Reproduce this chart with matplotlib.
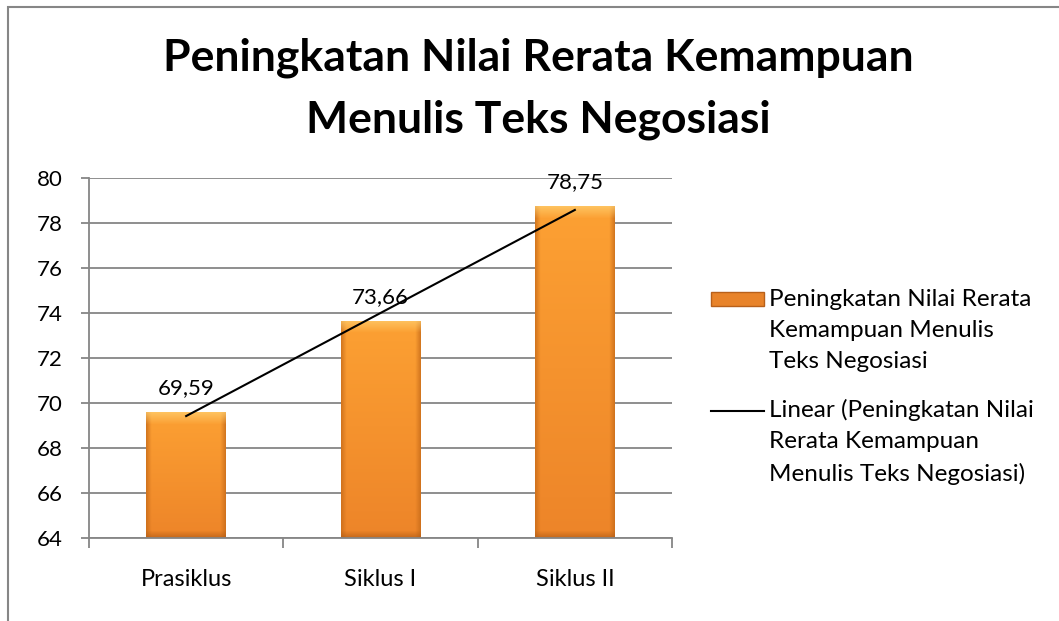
import numpy as np
import matplotlib.pyplot as plt
from matplotlib.patches import Rectangle, Patch
from matplotlib.lines import Line2D
from matplotlib.legend_handler import HandlerPatch, HandlerLine2D
from matplotlib.transforms import Affine2D

categories = ['Prasiklus', 'Siklus I', 'Siklus II']
values = [69.59, 73.66, 78.75]
value_labels = ['69,59', '73,66', '78,75']
yticks = [64, 66, 68, 70, 72, 74, 76, 78, 80]

title = 'Peningkatan Nilai Rerata Kemampuan\nMenulis Teks Negosiasi'
bar_label = 'Peningkatan Nilai Rerata\nKemampuan Menulis\nTeks Negosiasi'
trend_label = 'Linear (Peningkatan Nilai\nRerata Kemampuan\nMenulis Teks Negosiasi)'

plt.rcParams['font.family'] = ['Lato', 'DejaVu Sans']
grey = '#868686'
leg_size = 17.5
leg_spacing = 1.6

fig = plt.figure(figsize=(10.59, 6.21), dpi=100)
fig.patches.append(Rectangle((8 / 1059, -0.1), 1.2, 1 - 7 / 621 + 0.1,
                             transform=fig.transFigure, fill=False,
                             edgecolor=grey, linewidth=1.5))

ax = fig.add_axes([89 / 1059, 1 - 538 / 621, 583 / 1059, 360 / 621])
x = np.arange(len(categories))
bars = ax.bar(x, values, width=0.41, color='#F7962A', zorder=2)
ax.set_ylim(64, 80)
ax.set_xlim(-0.5, 2.5)


# bevelled orange fill, like the Excel preset
def bevel_img(n, m=200):
    u = np.linspace(0, 1, m)[None, :, None]
    r = np.arange(n)[:, None, None]
    v = r / (n - 1)
    top_c = np.array([0.99, 0.63, 0.20])
    bot_c = np.array([0.93, 0.52, 0.16])
    img = top_c * (1 - v) + bot_c * v
    img = np.broadcast_to(img, (n, m, 3)).copy()
    side = np.array([0.78, 0.42, 0.10])
    e = np.clip(1 - np.minimum(u, 1 - u) / 0.07, 0, 1) * 0.8
    img = img * (1 - e) + side * e
    top = np.clip(1 - r / 12, 0, 1) * 0.7
    img = img * (1 - top) + np.array([1.0, 0.82, 0.45]) * top
    bot = np.clip((r - (n - 8)) / 8, 0, 1) * 0.7
    img = img * (1 - bot) + np.array([0.68, 0.35, 0.08]) * bot
    return np.clip(img, 0, 1)


ymin = ax.get_ylim()[0]
for b in bars:
    x0, w = b.get_x(), b.get_width()
    n = int((b.get_height() - ymin) * 22.5) + 2
    im = ax.imshow(bevel_img(n), extent=(x0, x0 + w, ymin, b.get_height()),
                   aspect='auto', zorder=2.1, origin='upper')
    im.set_clip_path(b)
ax.set_ylim(64, 80)
ax.set_xlim(-0.5, 2.5)

# linear trend line
coef = np.polyfit(x, values, 1)
ax.plot(x, np.polyval(coef, x), color='black', linewidth=1.5, zorder=3)

for xi, v, lab in zip(x, values, value_labels):
    ax.annotate(lab, (xi, v), xytext=(0, 10), textcoords='offset points',
                ha='center', va='bottom', fontsize=16, zorder=4)

ax.set_yticks(yticks)
ax.yaxis.grid(True, color=grey, linewidth=1.3, zorder=0)
ax.set_axisbelow(True)
ax.set_xticks([-0.5, 0.5, 1.5, 2.5], ['', '', '', ''])
ax.set_xticks(x, categories, minor=True)
ax.tick_params(axis='x', which='major', length=7, color=grey, width=1.3)
ax.tick_params(axis='x', which='minor', length=0, pad=22, labelsize=17)
ax.tick_params(axis='y', length=6, color=grey, width=1.3, pad=13, labelsize=16)
for s in ['top', 'right']:
    ax.spines[s].set_visible(False)
for s in ['left', 'bottom']:
    ax.spines[s].set_color(grey)
    ax.spines[s].set_linewidth(1.3)

fig.text(538 / 1059, 1 - 89 / 621, title, ha='center', va='center',
         fontsize=32, fontweight='bold', linespacing=1.65)

# legend handles sit on the first text line, as in Excel
shift = 23


class TopPatch(HandlerPatch):
    def create_artists(self, legend, orig_handle, xdescent, ydescent,
                       width, height, fontsize, trans):
        trans = Affine2D().translate(0, shift) + trans
        return super().create_artists(legend, orig_handle, xdescent, ydescent,
                                      width, height, fontsize, trans)


class TopLine(HandlerLine2D):
    def create_artists(self, legend, orig_handle, xdescent, ydescent,
                       width, height, fontsize, trans):
        trans = Affine2D().translate(0, shift) + trans
        return super().create_artists(legend, orig_handle, xdescent, ydescent,
                                      width, height, fontsize, trans)


h_bar = Patch(facecolor='#E8832A', edgecolor='#B8601A')
h_line = Line2D([0], [0], color='black', linewidth=1.5)
leg = fig.legend([h_bar, h_line], [bar_label, trend_label], loc='upper left',
                 bbox_to_anchor=(711 / 1059, 1 - 289 / 621), frameon=False,
                 fontsize=leg_size, handlelength=2.2, handleheight=0.5,
                 handletextpad=0.2, labelspacing=1.1, borderaxespad=0,
                 borderpad=0,
                 handler_map={Patch: TopPatch(), Line2D: TopLine()})
for t in leg.get_texts():
    t.set_linespacing(leg_spacing)

fig.savefig('out.png', dpi=100)
